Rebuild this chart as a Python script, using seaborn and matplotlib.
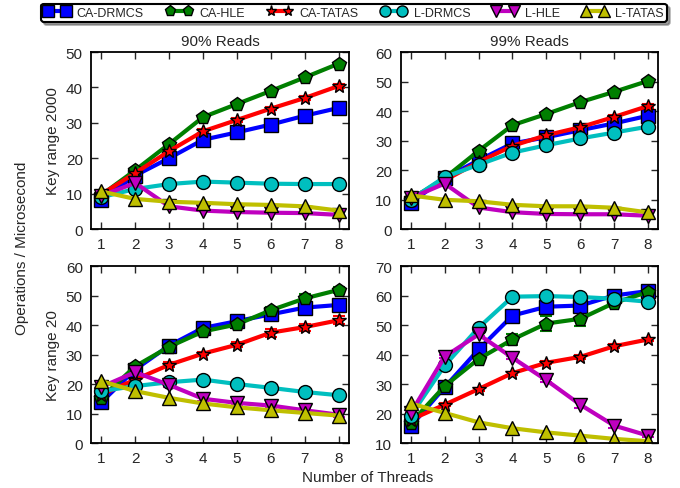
import matplotlib
matplotlib.use("Agg")
import matplotlib.pyplot as plt
from matplotlib.lines import Line2D
import numpy as np
import pandas as pd
import seaborn as sns

threads = [1, 2, 3, 4, 5, 6, 7, 8]
series = ["CA-DRMCS", "CA-HLE", "CA-TATAS", "L-DRMCS", "L-HLE", "L-TATAS"]
colors = ["#0000FF", "#007F00", "#FF0000", "#00BFBF", "#BF00BF", "#BFBF00"]
markers = ["s", "p", "*", "o", "v", "^"]

# 90% reads, key range 2000
tl_vals = {
    "CA-DRMCS": [8.3, 15.1, 20.0, 25.2, 27.3, 29.5, 32.0, 34.2],
    "CA-HLE":   [9.6, 16.6, 24.0, 31.6, 35.3, 39.0, 42.8, 46.7],
    "CA-TATAS": [9.8, 15.8, 22.0, 27.6, 30.8, 34.0, 37.0, 40.4],
    "L-DRMCS":  [9.0, 11.3, 12.7, 13.4, 13.1, 12.8, 12.7, 12.7],
    "L-HLE":    [9.4, 13.0, 6.4, 5.2, 4.8, 4.6, 4.5, 4.0],
    "L-TATAS":  [10.6, 8.5, 7.7, 7.4, 7.0, 6.8, 6.4, 5.2],
}
# 99% reads, key range 2000
tr_vals = {
    "CA-DRMCS": [8.9, 17.3, 23.3, 29.0, 31.1, 33.5, 35.8, 38.4],
    "CA-HLE":   [10.0, 17.3, 26.5, 35.2, 39.0, 43.0, 46.5, 50.2],
    "CA-TATAS": [10.5, 16.5, 22.7, 28.2, 31.8, 34.5, 38.0, 41.7],
    "L-DRMCS":  [10.0, 17.6, 21.8, 25.9, 28.4, 30.7, 32.7, 34.7],
    "L-HLE":    [10.5, 15.4, 7.3, 5.7, 5.1, 5.0, 5.0, 4.5],
    "L-TATAS":  [11.4, 9.9, 9.4, 8.2, 7.7, 7.7, 7.2, 5.6],
}
# 90% reads, key range 20
bl_vals = {
    "CA-DRMCS": [13.8, 24.9, 33.0, 39.0, 41.3, 43.6, 45.9, 46.8],
    "CA-HLE":   [15.3, 26.0, 32.6, 37.8, 40.2, 45.0, 49.0, 51.9],
    "CA-TATAS": [16.4, 21.5, 26.5, 30.3, 33.3, 37.4, 39.3, 41.6],
    "L-DRMCS":  [17.6, 19.3, 20.6, 21.5, 20.0, 18.7, 17.3, 16.2],
    "L-HLE":    [19.0, 24.0, 19.7, 15.0, 13.6, 12.7, 11.1, 9.6],
    "L-TATAS":  [21.0, 17.6, 15.3, 13.4, 12.1, 11.1, 10.2, 9.3],
}
# 99% reads, key range 20
br_vals = {
    "CA-DRMCS": [15.7, 28.9, 41.7, 53.2, 56.2, 56.6, 60.0, 61.5],
    "CA-HLE":   [16.8, 29.3, 38.5, 45.1, 50.5, 52.1, 57.5, 61.2],
    "CA-TATAS": [17.9, 23.0, 28.3, 33.7, 37.2, 39.2, 42.8, 45.1],
    "L-DRMCS":  [19.3, 36.3, 49.1, 59.6, 59.8, 59.5, 58.9, 57.9],
    "L-HLE":    [20.2, 39.3, 46.8, 38.9, 31.3, 23.0, 15.9, 12.5],
    "L-TATAS":  [23.4, 20.2, 17.0, 15.0, 13.6, 12.5, 11.4, 10.6],
}

# error bars (only where visible)
tl_err = {"CA-TATAS": [0, 0.5, 0.5, 0.6, 0.5, 0.5, 0.5, 0.6]}
tr_err = {"CA-DRMCS": [0, 0.5, 0.5, 0.5, 0.5, 0.5, 0.8, 1.0],
          "CA-TATAS": [0, 0.5, 0.5, 0.5, 0.6, 0.6, 0.6, 0.8]}
bl_err = {"CA-HLE": [0.5, 0.5, 0.5, 0.8, 0.8, 1.0, 1.5, 1.0],
          "CA-TATAS": [0.3, 0.5, 0.9, 0.5, 0.8, 1.3, 1.2, 1.3],
          "L-HLE": [0, 0, 0.8, 0.8, 0.8, 0.8, 0.8, 0.8]}
br_err = {"CA-HLE": [0.5, 0.8, 1.0, 1.8, 2.6, 2.3, 1.0, 1.0],
          "CA-TATAS": [0.5, 0.5, 0.5, 0.5, 0.5, 0.6, 0.6, 0.6],
          "L-HLE": [0.5, 0.5, 0.5, 0.5, 0.5, 1.0, 0.8, 0.5]}

panels = [
    (tl_vals, tl_err, "90% Reads", (0, 50)),
    (tr_vals, tr_err, "99% Reads", (0, 60)),
    (bl_vals, bl_err, None, (0, 60)),
    (br_vals, br_err, None, (10, 70)),
]
row_labels = ["Key range 2000", "Key range 20"]

sns.set_style("ticks")
plt.rcParams["font.family"] = ["Liberation Sans", "DejaVu Sans"]
plt.rcParams["font.size"] = 11

palette = dict(zip(series, colors))
marker_map = dict(zip(series, markers))

fig, axes = plt.subplots(2, 2, figsize=(6.8, 4.89), dpi=100)
fig.subplots_adjust(left=0.134, right=0.968, top=0.8916, bottom=0.092,
                    wspace=0.2016, hspace=0.209)

for ax, (vals, errs, title, ylim) in zip(axes.flatten(), panels):
    df = pd.DataFrame([(s, t, v) for s in series for t, v in zip(threads, vals[s])],
                      columns=["series", "threads", "value"])
    for s, e in errs.items():
        ax.errorbar(threads, vals[s], yerr=e, fmt="none", ecolor=palette[s],
                    elinewidth=1.5, capsize=4, capthick=1.5, zorder=1)
    sns.lineplot(data=df, x="threads", y="value", hue="series", style="series",
                 palette=palette, markers=marker_map, dashes=False,
                 linewidth=3, markersize=10, markeredgecolor="black",
                 markeredgewidth=1, legend=False, ax=ax, zorder=2)
    ax.set_xlim(0.7, 8.3)
    ax.set_ylim(*ylim)
    ax.set_xticks(threads)
    ax.set_yticks(np.arange(ylim[0], ylim[1] + 1, 10))
    ax.set_xlabel("")
    ax.set_ylabel("")
    ax.tick_params(direction="in", top=True, right=True, length=5, width=1,
                   labelsize=11, pad=6)
    for sp in ax.spines.values():
        sp.set_linewidth(1.3)
        sp.set_color("black")
    if title:
        ax.set_title(title, fontsize=11, pad=5)

axes[0, 0].set_ylabel(row_labels[0], fontsize=11)
axes[1, 0].set_ylabel(row_labels[1], fontsize=11)

fig.text(0.032, 0.492, "Operations / Microsecond", rotation=90,
         ha="center", va="center", fontsize=11)
fig.text(0.54, 0.022, "Number of Threads", ha="center", va="center", fontsize=11)

handles = [Line2D([0], [0], color=c, marker=m, linewidth=3, markersize=8,
                  markeredgecolor="black", markeredgewidth=1)
           for c, m in zip(colors, markers)]
leg = fig.legend(handles, series, loc="upper center", bbox_to_anchor=(0.5206, 0.998),
                 ncol=6, numpoints=2, fontsize=9, frameon=True, shadow=True,
                 fancybox=True, handlelength=2.0, columnspacing=1.8,
                 handletextpad=0.6, borderpad=0.25, borderaxespad=0.3)
leg.get_frame().set_edgecolor("black")
leg.get_frame().set_linewidth(1.5)

fig.savefig("out.png", dpi=100)
